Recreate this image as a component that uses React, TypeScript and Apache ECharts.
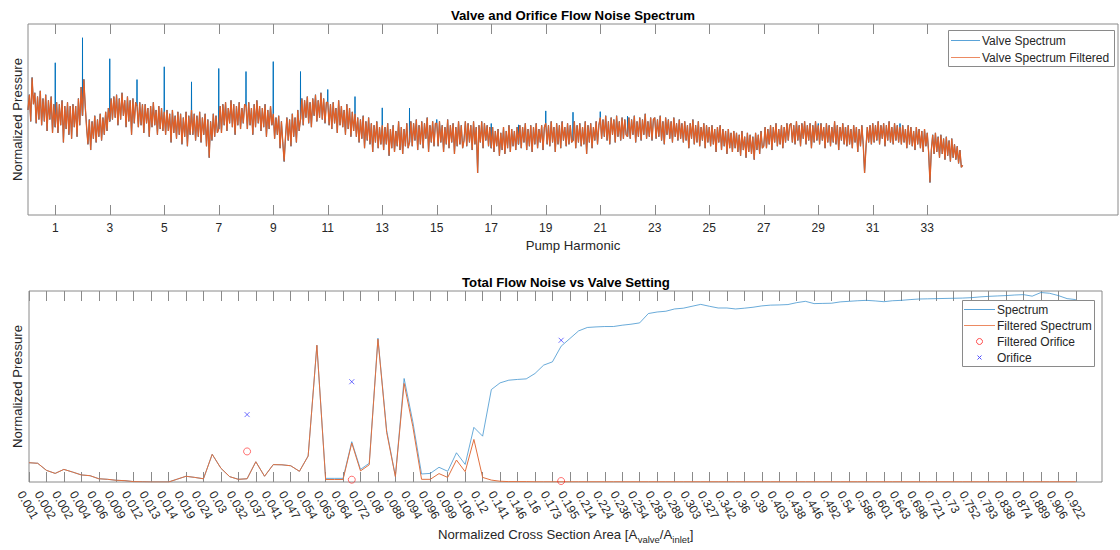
import React, { useEffect, useRef } from 'react';
import * as echarts from 'echarts';

// ---------- Top chart: Valve and Orifice Flow Noise Spectrum ----------
// Harmonic tick positions (pump harmonic)
const harmonicTicks = [1, 3, 5, 7, 9, 11, 13, 15, 17, 19, 21, 23, 25, 27, 29, 31, 33];

// Filtered spectrum sampled every 0.05 harmonic from 0.00 (normalized 0-100), one row per harmonic
const filteredTop: number[] = [
  55, 63, 49, 72, 58, 64, 48, 62, 50, 65, 47, 61, 49, 63, 44, 60, 50, 62, 43, 58,
  46, 59, 43, 58, 47, 60, 38, 57, 45, 59, 42, 57, 40, 58, 46, 57, 41, 61, 47, 67,
  52, 71, 57, 46, 37, 50, 34, 49, 40, 52, 38, 50, 41, 53, 39, 51, 42, 54, 44, 56,
  49, 61, 50, 62, 51, 63, 47, 61, 50, 64, 52, 60, 46, 62, 49, 60, 42, 61, 48, 59,
  57, 46, 59, 47, 58, 43, 58, 48, 56, 41, 57, 46, 59, 47, 55, 42, 57, 45, 56, 44,
  54, 42, 55, 44, 53, 38, 55, 43, 52, 40, 54, 42, 53, 37, 51, 41, 54, 36, 52, 42,
  55, 42, 53, 39, 52, 41, 54, 38, 51, 42, 53, 36, 50, 30, 49, 39, 53, 41, 52, 43,
  45, 57, 43, 58, 47, 59, 44, 56, 48, 60, 46, 58, 42, 57, 47, 59, 45, 56, 48, 58,
  57, 45, 59, 47, 56, 42, 58, 46, 60, 48, 57, 44, 56, 46, 58, 41, 55, 45, 57, 47,
  53, 40, 51, 42, 52, 35, 49, 38, 28, 41, 51, 39, 50, 36, 53, 41, 51, 38, 55, 44,
  50, 61, 47, 60, 51, 62, 48, 59, 46, 61, 52, 63, 49, 60, 51, 64, 50, 61, 48, 59,
  59, 47, 58, 45, 59, 48, 56, 43, 60, 47, 57, 46, 55, 42, 58, 45, 56, 41, 54, 44,
  53, 41, 51, 38, 50, 40, 52, 35, 49, 39, 51, 37, 48, 33, 47, 38, 49, 35, 46, 37,
  47, 34, 46, 37, 48, 31, 45, 35, 47, 33, 44, 36, 49, 34, 46, 32, 45, 36, 48, 35,
  38, 49, 36, 48, 39, 50, 34, 47, 37, 49, 35, 48, 40, 51, 33, 47, 38, 49, 36, 48,
  48, 36, 49, 38, 47, 33, 46, 37, 50, 35, 47, 38, 48, 32, 46, 36, 49, 37, 47, 35,
  39, 49, 36, 48, 38, 47, 34, 49, 37, 46, 22, 47, 38, 49, 35, 48, 39, 47, 36, 46,
  35, 46, 33, 44, 36, 45, 31, 43, 34, 46, 32, 44, 35, 47, 33, 45, 36, 44, 34, 46,
  37, 47, 35, 46, 38, 48, 34, 45, 36, 47, 33, 46, 37, 48, 35, 45, 38, 47, 34, 46,
  48, 37, 47, 36, 49, 38, 46, 33, 48, 37, 47, 35, 49, 39, 46, 36, 48, 37, 47, 38,
  39, 49, 35, 47, 38, 48, 36, 46, 37, 49, 32, 47, 38, 48, 35, 46, 39, 49, 37, 47,
  51, 40, 50, 41, 52, 39, 49, 37, 51, 42, 50, 38, 52, 41, 49, 39, 51, 40, 50, 42,
  41, 51, 40, 50, 42, 52, 38, 49, 41, 51, 39, 50, 42, 53, 40, 49, 41, 51, 39, 50,
  51, 40, 50, 41, 52, 39, 49, 37, 51, 42, 50, 40, 49, 38, 51, 41, 48, 39, 50, 40,
  48, 38, 49, 39, 47, 35, 48, 40, 50, 37, 47, 38, 49, 36, 46, 39, 48, 35, 47, 38,
  46, 36, 47, 37, 45, 33, 46, 38, 47, 34, 45, 36, 44, 32, 45, 35, 43, 33, 44, 35,
  43, 33, 42, 31, 44, 34, 41, 30, 43, 33, 42, 32, 41, 29, 43, 34, 42, 32, 44, 35,
  36, 46, 35, 45, 37, 47, 34, 46, 38, 48, 36, 45, 37, 47, 35, 46, 38, 48, 39, 47,
  48, 38, 47, 37, 49, 39, 47, 36, 48, 40, 49, 37, 47, 39, 48, 35, 47, 38, 49, 39,
  47, 37, 48, 39, 46, 35, 48, 38, 47, 36, 46, 38, 49, 37, 47, 34, 46, 39, 48, 37,
  46, 36, 47, 37, 45, 35, 47, 38, 46, 33, 45, 36, 47, 37, 22, 35, 46, 38, 47, 37,
  48, 38, 47, 39, 49, 37, 47, 40, 48, 36, 47, 39, 49, 38, 46, 37, 48, 39, 47, 38,
  46, 37, 47, 38, 45, 35, 47, 37, 46, 36, 44, 34, 46, 37, 45, 35, 44, 33, 45, 36,
  43, 33, 17, 34, 42, 32, 43, 33, 41, 30, 42, 32, 40, 29, 41, 31, 39, 28, 40, 30,
  37, 29, 36, 27, 34, 25, 26,
];

// Unfiltered spectrum peaks at pump harmonics
const spikeHarmonics = [1, 2, 3, 4, 5, 6, 7, 8, 9, 10, 11, 12, 13, 14, 15, 17, 18, 19, 20, 21, 22, 24, 29, 30, 32];
const spikeValues = [79.7, 92.8, 81.8, 70.9, 77.6, 69.7, 76.7, 75.1, 80.3, 75.1, 65.7, 62.0, 56.1, 56.0, 50.0, 47.9, 47.2, 54.5, 53.8, 54.1, 51.7, 48.3, 47.9, 45.6, 47.9];

// ---------- Bottom chart: Total Flow Noise vs Valve Setting ----------
const areaLabels = [
  '0.001', '0.002', '0.002', '0.004', '0.006', '0.009', '0.012', '0.013', '0.014', '0.019',
  '0.024', '0.03', '0.032', '0.037', '0.041', '0.047', '0.054', '0.063', '0.064', '0.072',
  '0.08', '0.088', '0.094', '0.096', '0.099', '0.106', '0.12', '0.141', '0.146', '0.16',
  '0.173', '0.195', '0.214', '0.224', '0.236', '0.254', '0.283', '0.289', '0.303', '0.327',
  '0.342', '0.36', '0.39', '0.403', '0.438', '0.446', '0.492', '0.54', '0.586', '0.601',
  '0.643', '0.698', '0.721', '0.73', '0.752', '0.793', '0.838', '0.874', '0.889', '0.906',
  '0.922',
];

const spectrum = [
  10.1, 9.8, 6.1, 4.5, 6.6, 5.2, 3.7, 3.3, 1.7, 1.4,
  0.9, 0.7, 0.2, 0.1, 0.0, 0.0, 0.0, 1.5, 3.0, 2.4,
  1.7, 14.5, 7.2, 2.8, 1.4, 1.7, 10.6, 3.0, 9.1, 9.0,
  8.5, 5.6, 13.6, 71.6, 1.9, 1.9, 1.9, 21.1, 6.6, 9.8,
  75.3, 27.0, 3.0, 54.2, 31.5, 4.2, 4.5, 7.7, 5.6, 15.3,
  9.2, 28.6, 24.0, 48.4, 51.9, 53.3, 53.7, 54.0, 56.8, 61.2,
  62.9, 71.1, 75.1, 79.1, 80.9, 81.2, 81.4, 81.4, 82.1, 82.6,
  83.3, 88.2, 89.0, 89.4, 90.6, 91.0, 92.0, 93.0, 92.0, 91.1,
  91.1, 90.6, 91.0, 91.5, 92.2, 92.6, 92.7, 92.9, 93.9, 94.6,
  93.4, 93.5, 93.6, 94.3, 94.6, 94.9, 95.1, 94.8, 94.4, 94.9,
  95.1, 95.5, 95.8, 95.9, 96.0, 96.1, 96.2, 96.3, 96.5, 96.9,
  97.2, 97.4, 97.6, 97.9, 98.1, 97.3, 99.2, 98.8, 97.6, 96.0,
  95.5,
];

const filteredSpectrum = [
  10.1, 9.8, 6.1, 4.5, 6.6, 5.2, 3.7, 3.3, 1.7, 1.4,
  0.9, 0.7, 0.2, 0.1, 0.0, 0.0, 0.0, 1.5, 3.0, 2.4,
  1.7, 14.5, 7.2, 2.8, 1.4, 1.7, 10.6, 3.0, 9.1, 9.0,
  8.5, 5.6, 13.6, 71.6, 1.3, 1.3, 1.3, 20.4, 5.8, 9.0,
  74.8, 26.0, 2.8, 51.6, 29.0, 1.4, 1.4, 4.4, 2.4, 11.5,
  5.4, 22.3, 2.4, 1.0, 0.4, 0.2, 0.2, 0.2, 0.1, 0.1,
  0.1, 0.1, 0.1, 0.1, 0.1, 0.1, 0.1, 0.1, 0.1, 0.1,
  0.1, 0.1, 0.1, 0.1, 0.1, 0.1, 0.1, 0.1, 0.1, 0.1,
  0.1, 0.1, 0.1, 0.1, 0.1, 0.1, 0.1, 0.1, 0.1, 0.1,
  0.1, 0.1, 0.1, 0.1, 0.1, 0.1, 0.1, 0.1, 0.1, 0.1,
  0.1, 0.1, 0.1, 0.1, 0.1, 0.1, 0.1, 0.1, 0.1, 0.1,
  0.1, 0.1, 0.1, 0.1, 0.1, 0.1, 0.1, 0.1, 0.1, 0.1,
  0.1,
];

const orificePositions = [25, 37, 61];
const orificeValues = [35.3, 52.5, 74.2];
const filteredOrificeValues = [16.0, 1.2, 0.5];

// ---------- styling ----------
const FONT = '"Liberation Sans", Arial, Helvetica, sans-serif';
const TEXT = '#262626';
const AXIS = '#8a8a8a';
const BLUE = '#0072BD';
const ORANGE = '#D95319';
const LW = 0.7;

function buildOption() {
  const toH = (i: number) => Math.round(i * 5) / 100; // 0.05 harmonic step
  const orangeData = filteredTop.map((v, i) => [toH(i), v]);
  const blueData: number[][] = [];
  filteredTop.forEach((v, i) => {
    const h = toH(i);
    const k = spikeHarmonics.indexOf(h);
    if (k >= 0) {
      blueData.push([h - 0.005, v], [h, spikeValues[k]], [h + 0.005, v]);
    } else {
      blueData.push([h, v]);
    }
  });

  const bottomTickVals = areaLabels.map((_, i) => i * 2);
  const spectrumData = spectrum.map((v, i) => [i, v]);
  const filteredData = filteredSpectrum.map((v, i) => [i, v]);
  const orificeData = orificePositions.map((x, i) => [x, orificeValues[i]]);
  const filteredOrificeData = orificePositions.map((x, i) => [x, filteredOrificeValues[i]]);

  const tickStyle = { color: AXIS, width: 1 };
  const nameStyle = { fontSize: 13.2, color: TEXT, fontFamily: FONT };

  const txt = (text: string, x: number, y: number, opts: any = {}) => ({
    type: 'text',
    z: 100,
    style: {
      text,
      x,
      y,
      fill: opts.fill || TEXT,
      font: `${opts.weight || 'normal'} ${opts.size || 12}px ${FONT}`,
      textAlign: opts.align || 'left',
      textVerticalAlign: 'middle',
    },
  });

  const graphic: any[] = [
    txt('Valve and Orifice Flow Noise Spectrum', 573, 15, { weight: 'bold', size: 13.2, align: 'center', fill: '#000' }),
    txt('Total Flow Noise vs Valve Setting', 566, 282, { weight: 'bold', size: 13.2, align: 'center', fill: '#000' }),
    // top legend
    { type: 'rect', z: 99, shape: { x: 948.5, y: 30.5, width: 166, height: 36 }, style: { fill: '#fff', stroke: AXIS, lineWidth: 1 } },
    { type: 'line', z: 100, shape: { x1: 951, y1: 40.5, x2: 980, y2: 40.5 }, style: { stroke: '#5aa3d8', lineWidth: 1 } },
    { type: 'line', z: 100, shape: { x1: 951, y1: 57.5, x2: 980, y2: 57.5 }, style: { stroke: '#ec8a62', lineWidth: 1 } },
    txt('Valve Spectrum', 982, 41),
    txt('Valve Spectrum Filtered', 982, 58),
    // bottom legend
    { type: 'rect', z: 99, shape: { x: 962.5, y: 300.5, width: 132, height: 66 }, style: { fill: '#fff', stroke: AXIS, lineWidth: 1 } },
    { type: 'line', z: 100, shape: { x1: 964, y1: 309.5, x2: 995, y2: 309.5 }, style: { stroke: '#5aa3d8', lineWidth: 1 } },
    { type: 'line', z: 100, shape: { x1: 964, y1: 325.5, x2: 995, y2: 325.5 }, style: { stroke: '#ec8a62', lineWidth: 1 } },
    { type: 'circle', z: 100, shape: { cx: 979.5, cy: 341.5, r: 3 }, style: { fill: 'none', stroke: '#ff5050', lineWidth: 1 } },
    { type: 'line', z: 100, shape: { x1: 977.5, y1: 355.5, x2: 981.5, y2: 359.5 }, style: { stroke: '#5050ff', lineWidth: 1 } },
    { type: 'line', z: 100, shape: { x1: 981.5, y1: 355.5, x2: 977.5, y2: 359.5 }, style: { stroke: '#5050ff', lineWidth: 1 } },
    txt('Spectrum', 997, 310),
    txt('Filtered Spectrum', 997, 326),
    txt('Filtered Orifice', 997, 342),
    txt('Orifice', 997, 358),
  ];

  return {
    animation: false,
    backgroundColor: '#ffffff',
    grid: [
      { left: 28, top: 24, width: 1090, height: 191, show: true, borderColor: AXIS, borderWidth: 1, backgroundColor: '#fff' },
      { left: 29, top: 291, width: 1073, height: 191, show: true, borderColor: AXIS, borderWidth: 1, backgroundColor: '#fff' },
    ],
    xAxis: [
      {
        type: 'value', gridIndex: 0, min: 0, max: 40, position: 'bottom',
        axisLine: { show: false }, splitLine: { show: false },
        axisTick: { show: true, inside: true, length: 10, customValues: harmonicTicks, lineStyle: tickStyle },
        axisLabel: { customValues: harmonicTicks, margin: 7, fontSize: 12, color: TEXT, fontFamily: FONT },
        name: 'Pump Harmonic', nameLocation: 'middle', nameGap: 24, nameTextStyle: nameStyle,
      },
      {
        type: 'value', gridIndex: 0, min: 0, max: 40, position: 'top',
        axisLine: { show: false }, splitLine: { show: false },
        axisTick: { show: true, inside: true, length: 10, customValues: harmonicTicks, lineStyle: tickStyle },
        axisLabel: { show: false },
      },
      {
        type: 'value', gridIndex: 1, min: 0, max: 123, position: 'bottom',
        axisLine: { show: false }, splitLine: { show: false },
        axisTick: { show: true, inside: true, length: 10, customValues: bottomTickVals, lineStyle: tickStyle },
        axisLabel: {
          customValues: bottomTickVals,
          formatter: (v: number) => areaLabels[Math.round(v / 2)] ?? '',
          rotate: -60, align: 'left', verticalAlign: 'top', margin: 5, padding: [4, 0, 0, 0],
          fontSize: 12, color: TEXT, fontFamily: FONT,
        },
        name: '{a|Normalized Cross Section Area [A}{b|valve}{a|/A}{b|inlet}{a|]}',
        nameLocation: 'middle', nameGap: 42,
        nameTextStyle: {
          ...nameStyle,
          rich: {
            a: { fontSize: 13.2, color: TEXT, fontFamily: FONT },
            b: { fontSize: 9.5, color: TEXT, fontFamily: FONT, padding: [10, 0, 0, 0] },
          },
        },
      },
      {
        type: 'value', gridIndex: 1, min: 0, max: 123, position: 'top',
        axisLine: { show: false }, splitLine: { show: false },
        axisTick: { show: true, inside: true, length: 10, customValues: bottomTickVals, lineStyle: tickStyle },
        axisLabel: { show: false },
      },
    ],
    yAxis: [
      {
        type: 'value', gridIndex: 0, min: 0, max: 100,
        axisLine: { show: false }, axisTick: { show: false }, axisLabel: { show: false }, splitLine: { show: false },
        name: 'Normalized Pressure', nameLocation: 'middle', nameGap: 4, nameTextStyle: nameStyle,
      },
      {
        type: 'value', gridIndex: 1, min: 0, max: 100,
        axisLine: { show: false }, axisTick: { show: false }, axisLabel: { show: false }, splitLine: { show: false },
        name: 'Normalized Pressure', nameLocation: 'middle', nameGap: 5, nameTextStyle: nameStyle,
      },
    ],
    series: [
      {
        type: 'line', name: 'Valve Spectrum', xAxisIndex: 0, yAxisIndex: 0, data: blueData,
        symbol: 'none', showSymbol: false, z: 2,
        lineStyle: { width: 1, color: BLUE }, itemStyle: { color: BLUE },
      },
      {
        type: 'line', name: 'Valve Spectrum Filtered', xAxisIndex: 0, yAxisIndex: 0, data: orangeData,
        symbol: 'none', showSymbol: false, z: 3,
        lineStyle: { width: 1.3, color: '#DE5F28', join: 'bevel' }, itemStyle: { color: ORANGE },
      },
      {
        type: 'line', name: 'Spectrum', xAxisIndex: 2, yAxisIndex: 1, data: spectrumData,
        symbol: 'none', showSymbol: false, z: 2,
        lineStyle: { width: LW, color: '#2a86c8' }, itemStyle: { color: BLUE },
      },
      {
        type: 'line', name: 'Filtered Spectrum', xAxisIndex: 2, yAxisIndex: 1, data: filteredData,
        symbol: 'none', showSymbol: false, z: 3,
        lineStyle: { width: 1, color: '#E0703F' }, itemStyle: { color: ORANGE },
      },
      {
        type: 'scatter', name: 'Filtered Orifice', xAxisIndex: 2, yAxisIndex: 1, data: filteredOrificeData,
        symbol: 'circle', symbolSize: 7, z: 4,
        itemStyle: { color: 'rgba(0,0,0,0)', borderColor: '#FF0000', borderWidth: LW },
      },
      {
        type: 'scatter', name: 'Orifice', xAxisIndex: 2, yAxisIndex: 1, data: orificeData,
        symbol: 'path://M0,0L10,10M10,0L0,10', symbolSize: 5, z: 4,
        itemStyle: { color: 'rgba(0,0,0,0)', borderColor: '#0000FF', borderWidth: LW },
      },
    ],
    graphic,
  };
}

export default function App() {
  const ref = useRef<HTMLDivElement>(null);
  useEffect(() => {
    if (!ref.current) return;
    const chart = echarts.init(ref.current, undefined, { renderer: 'svg' });
    chart.setOption(buildOption() as any);
    return () => chart.dispose();
  }, []);
  return (
    <div
      ref={ref}
      style={{ position: 'absolute', left: 0, top: 0, width: 1120, height: 550, background: '#fff' }}
    />
  );
}
